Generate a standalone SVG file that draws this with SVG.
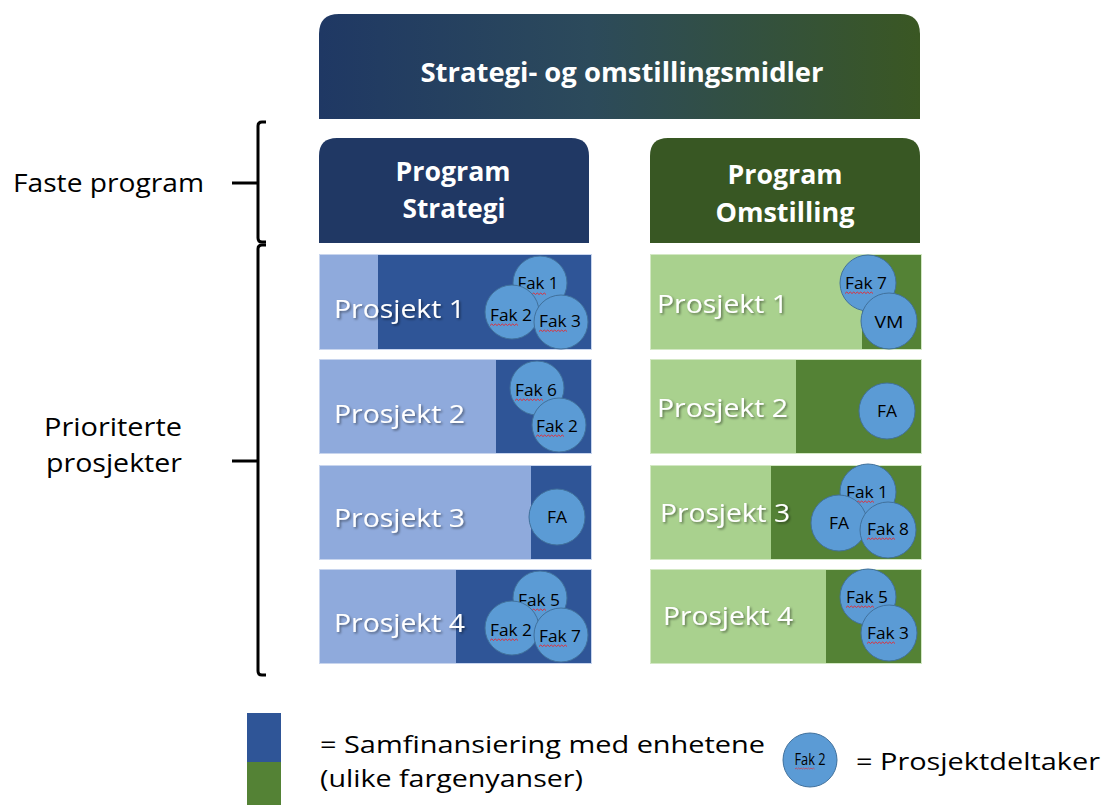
<svg xmlns="http://www.w3.org/2000/svg" xmlns:xlink="http://www.w3.org/1999/xlink" width="1106" height="805" viewBox="0 0 1106 805">
  <style>
    .hdr { font-family: "Open Sans", "Liberation Sans", sans-serif; font-weight: 700; fill: #ffffff; text-anchor: middle; }
    .proj { font-family: "Open Sans", "Liberation Sans", sans-serif; font-size: 26px; fill: #ffffff; filter: url(#shadow); }
    .side { font-family: "Open Sans", "Liberation Sans", sans-serif; font-size: 26px; fill: #000000; }
    .legend { font-family: "Open Sans", "Liberation Sans", sans-serif; font-size: 24px; fill: #000000; }
    .ctext { font-family: "Open Sans", "Liberation Sans", sans-serif; font-size: 16.5px; fill: #000000; text-anchor: middle; }
    .circ { fill: #5b9bd5; stroke: #41719c; stroke-width: 1; }
    .lightB { fill: #8faadc; stroke: #c8d5ee; stroke-width: 1; }
    .darkB { fill: #2f5597; }
    .lightG { fill: #a9d18e; stroke: #d3e8c4; stroke-width: 1; }
    .darkG { fill: #548235; }
    .sq { fill: none; stroke: #e0303a; stroke-width: 1; }
    .brace { fill: none; stroke: #000000; stroke-width: 3; }
  </style>
  <defs>
    <linearGradient id="hdrGrad" x1="0" y1="0" x2="1" y2="0">
      <stop offset="0" stop-color="#1f3864"/>
      <stop offset="0.45" stop-color="#2c4a5b"/>
      <stop offset="1" stop-color="#3a5723"/>
    </linearGradient>
    <filter id="shadow" x="-10%" y="-30%" width="130%" height="170%">
      <feDropShadow dx="1.5" dy="1.5" stdDeviation="1" flood-color="#000000" flood-opacity="0.45"/>
    </filter>
    <!-- wavy spell-check underline, 28px wide -->
    <path id="sq" class="sq" d="M0,1.5 l1.75,-1.5 l1.75,1.5 l1.75,-1.5 l1.75,1.5 l1.75,-1.5 l1.75,1.5 l1.75,-1.5 l1.75,1.5 l1.75,-1.5 l1.75,1.5 l1.75,-1.5 l1.75,1.5 l1.75,-1.5 l1.75,1.5 l1.75,-1.5 l1.75,1.5"/>
  </defs>

  <rect x="0" y="0" width="1106" height="805" fill="#ffffff"/>

  <!-- Top banner -->
  <g id="banner">
    <path d="M319,119 V34 Q319,14 339,14 H900 Q920,14 920,34 V119 Z" fill="url(#hdrGrad)"/>
    <text class="hdr" x="622" y="82" font-size="26.5" textLength="403" lengthAdjust="spacingAndGlyphs">Strategi- og omstillingsmidler</text>
  </g>

  <!-- Programme headers -->
  <g id="program-strategi">
    <path d="M319,243 V156 Q319,138 337,138 H571 Q589,138 589,156 V243 Z" fill="#203864"/>
    <text class="hdr" x="453" y="181" font-size="26.5" textLength="115" lengthAdjust="spacingAndGlyphs">Program</text>
    <text class="hdr" x="454" y="218" font-size="26.5" textLength="103" lengthAdjust="spacingAndGlyphs">Strategi</text>
  </g>
  <g id="program-omstilling">
    <path d="M650,243 V156 Q650,138 668,138 H902 Q920,138 920,156 V243 Z" fill="#385723"/>
    <text class="hdr" x="785" y="184" font-size="26.5" textLength="115" lengthAdjust="spacingAndGlyphs">Program</text>
    <text class="hdr" x="785" y="222" font-size="26.5" textLength="139" lengthAdjust="spacingAndGlyphs">Omstilling</text>
  </g>

  <!-- Strategi projects -->
  <g id="strategi-p1">
    <rect class="lightB" x="319.5" y="254.5" width="272" height="95"/>
    <rect class="darkB" x="378" y="255" width="213" height="94"/>
    <text class="proj" x="334" y="318" textLength="131" lengthAdjust="spacingAndGlyphs">Prosjekt 1</text>
    <circle class="circ" cx="540" cy="283" r="27"/>
    <text class="ctext" x="538" y="289" textLength="41" lengthAdjust="spacingAndGlyphs">Fak 1</text>
    <use href="#sq" x="518" y="293"/>
    <circle class="circ" cx="512" cy="312" r="27"/>
    <text class="ctext" x="511" y="321" textLength="42" lengthAdjust="spacingAndGlyphs">Fak 2</text>
    <use href="#sq" x="490" y="324"/>
    <circle class="circ" cx="561" cy="322" r="27"/>
    <text class="ctext" x="560" y="327" textLength="42" lengthAdjust="spacingAndGlyphs">Fak 3</text>
    <use href="#sq" x="539" y="330"/>
  </g>
  <g id="strategi-p2">
    <rect class="lightB" x="319.5" y="359.5" width="272" height="94"/>
    <rect class="darkB" x="496" y="360" width="95" height="93"/>
    <text class="proj" x="334" y="423" textLength="131" lengthAdjust="spacingAndGlyphs">Prosjekt 2</text>
    <circle class="circ" cx="537" cy="388" r="27"/>
    <text class="ctext" x="536" y="396" textLength="42" lengthAdjust="spacingAndGlyphs">Fak 6</text>
    <use href="#sq" x="515" y="399"/>
    <circle class="circ" cx="559" cy="425" r="27"/>
    <text class="ctext" x="557" y="432" textLength="42" lengthAdjust="spacingAndGlyphs">Fak 2</text>
    <use href="#sq" x="536" y="435"/>
  </g>
  <g id="strategi-p3">
    <rect class="lightB" x="319.5" y="465.5" width="272" height="94"/>
    <rect class="darkB" x="531" y="466" width="60" height="93"/>
    <text class="proj" x="334" y="527" textLength="131" lengthAdjust="spacingAndGlyphs">Prosjekt 3</text>
    <circle class="circ" cx="557" cy="517" r="28"/>
    <text class="ctext" x="557" y="523" font-size="15.5" textLength="20" lengthAdjust="spacingAndGlyphs">FA</text>
  </g>
  <g id="strategi-p4">
    <rect class="lightB" x="319.5" y="569.5" width="272" height="94"/>
    <rect class="darkB" x="456" y="570" width="135" height="93"/>
    <text class="proj" x="334" y="632" textLength="131" lengthAdjust="spacingAndGlyphs">Prosjekt 4</text>
    <circle class="circ" cx="540" cy="598" r="27"/>
    <text class="ctext" x="539" y="606" textLength="42" lengthAdjust="spacingAndGlyphs">Fak 5</text>
    <use href="#sq" x="518" y="609"/>
    <circle class="circ" cx="512" cy="628" r="27"/>
    <text class="ctext" x="511" y="636" textLength="42" lengthAdjust="spacingAndGlyphs">Fak 2</text>
    <use href="#sq" x="490" y="639"/>
    <circle class="circ" cx="561" cy="635" r="27"/>
    <text class="ctext" x="560" y="642" textLength="42" lengthAdjust="spacingAndGlyphs">Fak 7</text>
    <use href="#sq" x="539" y="645"/>
  </g>

  <!-- Omstilling projects -->
  <g id="omstilling-p1">
    <rect class="lightG" x="650.5" y="254.5" width="271" height="95"/>
    <rect class="darkG" x="862" y="255" width="59" height="94"/>
    <text class="proj" x="657" y="313" textLength="131" lengthAdjust="spacingAndGlyphs">Prosjekt 1</text>
    <circle class="circ" cx="868" cy="283" r="28"/>
    <text class="ctext" x="866" y="289" textLength="42" lengthAdjust="spacingAndGlyphs">Fak 7</text>
    <use href="#sq" x="845" y="292"/>
    <circle class="circ" cx="889" cy="321" r="28"/>
    <text class="ctext" x="889" y="328" font-size="15.5" textLength="29" lengthAdjust="spacingAndGlyphs">VM</text>
  </g>
  <g id="omstilling-p2">
    <rect class="lightG" x="650.5" y="359.5" width="271" height="94"/>
    <rect class="darkG" x="796" y="360" width="125" height="93"/>
    <text class="proj" x="657" y="417" textLength="131" lengthAdjust="spacingAndGlyphs">Prosjekt 2</text>
    <circle class="circ" cx="887" cy="411" r="28"/>
    <text class="ctext" x="887" y="417" font-size="15.5" textLength="20" lengthAdjust="spacingAndGlyphs">FA</text>
  </g>
  <g id="omstilling-p3">
    <rect class="lightG" x="650.5" y="465.5" width="271" height="94"/>
    <rect class="darkG" x="771" y="466" width="150" height="93"/>
    <text class="proj" x="660" y="522" textLength="130" lengthAdjust="spacingAndGlyphs">Prosjekt 3</text>
    <circle class="circ" cx="868" cy="492" r="28"/>
    <text class="ctext" x="867" y="498" textLength="42" lengthAdjust="spacingAndGlyphs">Fak 1</text>
    <use href="#sq" x="846" y="501"/>
    <circle class="circ" cx="839" cy="523" r="28"/>
    <text class="ctext" x="839" y="529" font-size="15.5" textLength="20" lengthAdjust="spacingAndGlyphs">FA</text>
    <circle class="circ" cx="888" cy="530" r="28"/>
    <text class="ctext" x="888" y="535" textLength="42" lengthAdjust="spacingAndGlyphs">Fak 8</text>
    <use href="#sq" x="867" y="538"/>
  </g>
  <g id="omstilling-p4">
    <rect class="lightG" x="650.5" y="569.5" width="271" height="94"/>
    <rect class="darkG" x="826" y="570" width="95" height="93"/>
    <text class="proj" x="663" y="625" textLength="130" lengthAdjust="spacingAndGlyphs">Prosjekt 4</text>
    <circle class="circ" cx="868" cy="597" r="28"/>
    <text class="ctext" x="867" y="603" textLength="42" lengthAdjust="spacingAndGlyphs">Fak 5</text>
    <use href="#sq" x="846" y="606"/>
    <circle class="circ" cx="889" cy="633" r="28"/>
    <text class="ctext" x="888" y="639" textLength="42" lengthAdjust="spacingAndGlyphs">Fak 3</text>
    <use href="#sq" x="867" y="642"/>
  </g>

  <!-- Side labels and braces -->
  <g id="label-faste">
    <text class="side" x="13" y="192" textLength="191" lengthAdjust="spacingAndGlyphs">Faste program</text>
  </g>
  <g id="label-prioriterte">
    <text class="side" x="44" y="436" textLength="138" lengthAdjust="spacingAndGlyphs">Prioriterte</text>
    <text class="side" x="46" y="472" textLength="136" lengthAdjust="spacingAndGlyphs">prosjekter</text>
  </g>
  <g id="connectors">
    <path class="brace" d="M266,122 H262 Q258,122 258,126 V238 Q258,242 262,242 H266"/>
    <path class="brace" d="M266,245 H262 Q258,245 258,249 V671 Q258,675 262,675 H266"/>
    <line class="brace" x1="232" y1="183" x2="258" y2="183"/>
    <line class="brace" x1="232" y1="461" x2="258" y2="461"/>
  </g>

  <!-- Legend -->
  <g id="legend-colour">
    <rect x="247" y="713" width="34" height="49" fill="#2f5597"/>
    <rect x="247" y="762" width="34" height="43" fill="#548235"/>
    <text class="legend" x="320" y="753" textLength="445" lengthAdjust="spacingAndGlyphs">= Samfinansiering med enhetene</text>
    <text class="legend" x="320" y="787" textLength="263" lengthAdjust="spacingAndGlyphs">(ulike fargenyanser)</text>
  </g>
  <g id="legend-participant">
    <circle class="circ" cx="810" cy="760" r="27"/>
    <text class="ctext" x="810" y="765" font-size="13.5" textLength="31" lengthAdjust="spacingAndGlyphs">Fak 2</text>
    <use href="#sq" x="795" y="768" transform="translate(795,768) scale(0.7) translate(-795,-768)"/>
    <text class="legend" x="856" y="770" textLength="244" lengthAdjust="spacingAndGlyphs">= Prosjektdeltaker</text>
  </g>
</svg>
